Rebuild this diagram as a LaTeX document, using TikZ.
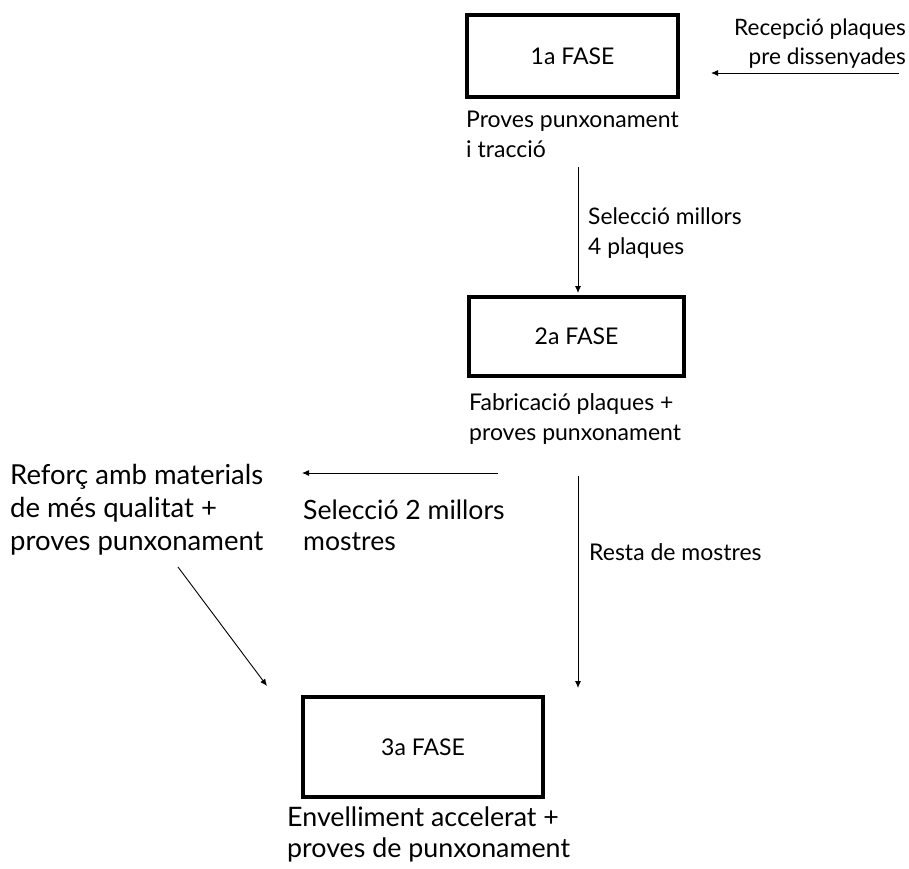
\documentclass[tikz,border=0pt]{standalone}
\usepackage{fontspec}
\setmainfont{Lato}
\usetikzlibrary{arrows.meta}
\begin{document}
\begin{tikzpicture}[x=1pt,y=-1pt,
  phase/.style={draw,line width=4pt,minimum width=#1,inner sep=0pt,font=\fontsize{23}{28}\selectfont},
  lbl/.style 2 args={anchor=base west,align=left,inner sep=0pt,font=\fontsize{#1}{#2}\selectfont},
  conn/.style={line width=0.9pt,-{Latex[length=7pt,width=6pt]}}]
\useasboundingbox (0,0) rectangle (909,868);
\node[phase=211pt,minimum height=82pt] (f1) at (572.5,56) {1a FASE};
\node[phase=215pt,minimum height=79pt] (f2) at (576.5,336.5) {2a FASE};
\node[phase=240pt,minimum height=100pt] (f3) at (423,747) {3a FASE};
\node[lbl={22.6}{29},anchor=base east,align=right] (rec) at (906,64) {Recepció plaques\\pre dissenyades};
\node[lbl={23}{30}] (t1) at (466,157) {Proves punxonament\\i tracció};
\node[lbl={22.8}{30}] (s1) at (588,254) {Selecció millors\\4 plaques};
\node[lbl={23}{30}] (t2) at (469,440) {Fabricació plaques +\\proves punxonament};
\node[lbl={27.5}{33}] (ref) at (10,550) {Reforç amb materials\\de més qualitat +\\proves punxonament};
\node[lbl={26.6}{31}] (s2) at (303,550) {Selecció 2 millors\\mostres};
\node[lbl={23}{30}] (rest) at (589,560) {Resta de mostres};
\node[lbl={26.8}{31}] (t3) at (287,857) {Envelliment accelerat +\\proves de punxonament};
\coordinate (a1s) at (899,73);
\coordinate (a1e) at (711,73);
\coordinate (a2s) at (578,167);
\coordinate (a2e) at (578,293);
\coordinate (a3s) at (498,473);
\coordinate (a3e) at (302,473);
\coordinate (a4s) at (178,567);
\coordinate (a4e) at (267,686);
\coordinate (a5s) at (578,476);
\coordinate (a5e) at (578,688);
\draw[conn] (a1s) -- (a1e);
\draw[conn] (a2s) -- (a2e);
\draw[conn] (a3s) -- (a3e);
\draw[conn] (a4s) -- (a4e);
\draw[conn] (a5s) -- (a5e);
\end{tikzpicture}
\end{document}
